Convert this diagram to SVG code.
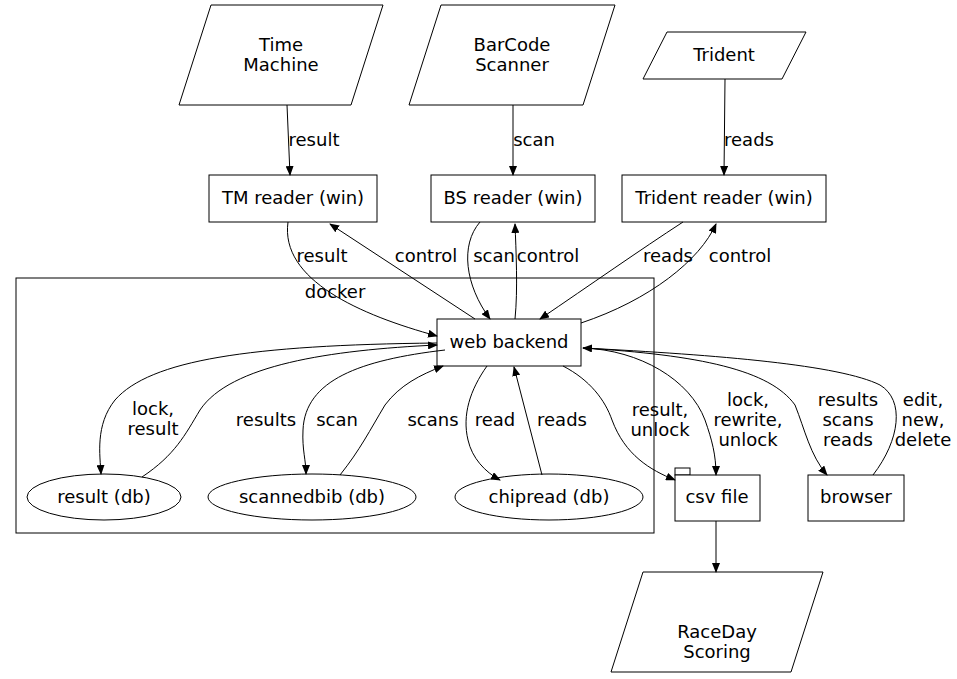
<svg xmlns="http://www.w3.org/2000/svg" width="957" height="679" viewBox="0 0 957 679">
<defs>
<marker id="a" markerWidth="10" markerHeight="8" refX="9" refY="4" orient="auto" markerUnits="userSpaceOnUse"><path d="M0,0 L10,4 L0,8 z" fill="#000"/></marker>
<style>
text{font-family:"DejaVu Sans",sans-serif;font-size:18px;fill:#000;text-anchor:middle}
.n{fill:#fff;stroke:#000;stroke-width:1}
.e{fill:none;stroke:#000;stroke-width:1;marker-end:url(#a)}
</style>
</defs>
<rect width="957" height="679" fill="#fff"/>
<g id="cluster_docker"><rect x="16" y="278" width="638" height="255" fill="none" stroke="#000"/><text x="335" y="298">docker</text></g>
<g id="tm"><polygon class="n" points="211,5 383,5 351,105 179,105"/><text x="281" y="51">Time</text><text x="281" y="71">Machine</text></g>
<g id="bs"><polygon class="n" points="441,5 615,5 583,105 409,105"/><text x="512" y="51">BarCode</text><text x="512" y="71">Scanner</text></g>
<g id="trident"><polygon class="n" points="667,32 806,32 782,79 643,79"/><text x="724" y="61">Trident</text></g>
<g id="tmr"><rect class="n" x="209" y="175" width="168" height="47"/><text x="293" y="204">TM reader (win)</text></g>
<g id="bsr"><rect class="n" x="431" y="175" width="164" height="47"/><text x="513" y="204">BS reader (win)</text></g>
<g id="trr"><rect class="n" x="622" y="175" width="204" height="47"/><text x="724" y="204">Trident reader (win)</text></g>
<g id="web"><rect class="n" x="437" y="319" width="144" height="47"/><text x="509" y="348">web backend</text></g>
<g id="resultdb"><ellipse class="n" cx="104" cy="497" rx="77" ry="23"/><text x="104" y="503">result (db)</text></g>
<g id="scannedbib"><ellipse class="n" cx="312" cy="497" rx="104" ry="23"/><text x="312" y="503">scannedbib (db)</text></g>
<g id="chipread"><ellipse class="n" cx="549" cy="497" rx="94" ry="23"/><text x="549" y="503">chipread (db)</text></g>
<g id="csv"><rect class="n" x="675" y="468" width="15" height="7"/><rect class="n" x="675" y="475" width="85" height="46"/><text x="717" y="503">csv file</text></g>
<g id="browser"><rect class="n" x="808" y="475" width="96" height="46"/><text x="856" y="503">browser</text></g>
<g id="raceday"><polygon class="n" points="643,572 823,572 791,672 611,672"/><text x="717" y="638">RaceDay</text><text x="717" y="658">Scoring</text></g>
<g id="edges">
<path class="e" d="M287,105 L290,175"/><text x="314" y="146">result</text>
<path class="e" d="M513,105 L513,175"/><text x="534" y="146">scan</text>
<path class="e" d="M725,79 L724,175"/><text x="749" y="146">reads</text>
<path class="e" d="M288,222 C280,280 360,315 437,336"/><text x="322" y="262">result</text>
<path class="e" d="M475,319 L330,224"/><text x="426" y="262">control</text>
<path class="e" d="M480,222 C460,245 465,285 490,319"/><text x="494" y="262">scan</text>
<path class="e" d="M515,319 C518,290 516,250 515,224"/><text x="548" y="262">control</text>
<path class="e" d="M683,222 C640,250 590,285 540,319"/><text x="668" y="262">reads</text>
<path class="e" d="M581,323 C650,300 700,260 716,224"/><text x="740" y="262">control</text>
<path class="e" d="M437,343 C250,345 150,360 115,400 C95,425 100,455 101,474"/><text x="153" y="415">lock,</text><text x="153" y="435">result</text>
<path class="e" d="M142,477 C175,455 185,435 200,410 C230,365 330,350 437,345"/><text x="266" y="426">results</text>
<path class="e" d="M445,350 C360,360 305,380 303,430 C302,450 306,460 306,474"/><text x="337" y="426">scan</text>
<path class="e" d="M340,475 C360,450 370,430 385,405 C400,385 420,375 443,366"/><text x="433" y="426">scans</text>
<path class="e" d="M487,366 C470,390 462,415 468,440 C472,458 485,472 500,480"/><text x="495" y="426">read</text>
<path class="e" d="M542,475 L514,367"/><text x="562" y="426">reads</text>
<path class="e" d="M563,366 C590,380 605,400 612,420 C625,455 650,470 675,480"/><text x="660" y="416">result,</text><text x="660" y="436">unlock</text>
<path class="e" d="M583,348 C640,350 690,380 705,420 C712,440 716,455 716,475"/><text x="748" y="406">lock,</text><text x="748" y="426">rewrite,</text><text x="748" y="446">unlock</text>
<path class="e" d="M583,348 C700,355 770,370 795,405 C805,430 810,455 827,475"/><text x="848" y="406">results</text><text x="848" y="426">scans</text><text x="848" y="446">reads</text>
<path class="e" d="M873,475 C900,440 905,400 880,385 C840,365 720,355 583,348"/><text x="923" y="406">edit,</text><text x="923" y="426">new,</text><text x="923" y="446">delete</text>
<path class="e" d="M716,521 L716,572"/>
</g>
</svg>
